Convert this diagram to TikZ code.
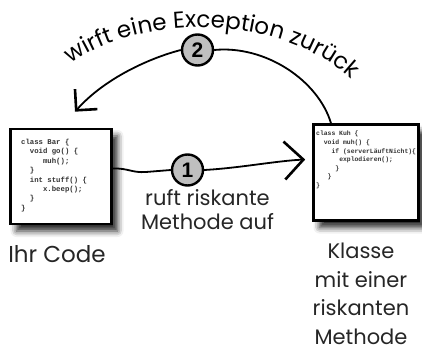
\documentclass[tikz,border=0pt]{standalone}
\usepackage{fontspec}
\setmainfont{Poppins}
\newfontfamily\codefont{Liberation Mono}
\newfontfamily\digitfont{Liberation Sans}
\usepackage{tikz}
\usetikzlibrary{arrows.meta, positioning, decorations.text, shadows.blur}

\begin{document}
\begin{tikzpicture}[x=1pt, y=-1pt,
  codebox/.style={rectangle, draw, line width=2.6pt, fill=white,
                  blur shadow={shadow xshift=6pt, shadow yshift=-7pt,
                               shadow blur radius=6pt, shadow opacity=85}},
  codetext/.style={anchor=north west, align=left, inner sep=0pt,
                   text=black!80, font=\codefont\bfseries},
  stepmark/.style={circle, draw, line width=2.4pt, fill=gray!50,
                   minimum size=31pt, inner sep=0pt,
                   font=\digitfont\bfseries\fontsize{21}{21}\selectfont},
  caption/.style={align=center, inner sep=0pt, text=black!85},
  link/.style={line width=1.8pt},
  barb/.style={-{Straight Barb[length=#1, width=2*#1, line width=2.6pt]}}]
  \useasboundingbox (0,0) rectangle (422,352);

  % the two classes
  \node[codebox, minimum width=101pt, minimum height=95pt] (bar) at (61,176.5) {};
  \node[codebox, minimum width=105pt, minimum height=96pt] (kuh) at (366,172.5) {};
  \node[codetext, font=\codefont\bfseries\fontsize{7.3}{9.4}\selectfont]
    (barcode) at (21,139)
    {class Bar \{\\
     \ \ void go() \{\\
     \ \ \ \ \ muh();\\
     \ \ \}\\
     \ \ int stuff() \{\\
     \ \ \ \ \ x.beep();\\
     \ \ \}\\
     \}};
  \node[codetext, font=\codefont\bfseries\fontsize{6.4}{8.6}\selectfont]
    (kuhcode) at (316,131)
    {class Kuh \{\\
     \ \ void muh() \{\\
     \ \ \ \ if (serverLäuftNicht)\{\\
     \ \ \ \ \ \ explodieren();\\
     \ \ \ \ \ \}\\
     \ \ \ \}\\
     \}};

  \node[caption, font=\fontsize{23}{28}\selectfont, below=20pt of bar, xshift=-4pt]
    (barlabel) {Ihr Code};
  \node[caption, font=\fontsize{21}{28.5}\selectfont, below=21pt of kuh, xshift=-5pt]
    (kuhlabel) {Klasse\\mit einer\\riskanten\\Methode};

  % step 1: the call
  \node[stepmark] (one) at (187.5,170) {1};
  \node[caption, font=\fontsize{21}{24}\selectfont, below=3pt of one, xshift=20pt]
    (onelabel) {ruft riskante\\Methode auf};
  \draw[link] ([yshift=8pt]bar.east) .. controls (128,168) and (132,173) .. (146,172)
    -- (one.west);
  \draw[link, barb=19pt] (one.east) .. controls (240,168) and (275,161)
    .. ([xshift=-7pt, yshift=13pt]kuh.west);

  % step 2: the exception comes back
  \node[stepmark] (two) at (197.5,50) {2};
  \draw[link] ([xshift=-35pt]kuh.north) .. controls (318,80) and (265,45) .. (two.east);
  \draw[link, barb=15pt] (two.west) .. controls (150,58) and (105,78)
    .. ([xshift=14pt, yshift=16pt]bar.north);
  \path[decorate, decoration={text along path, text align=center,
        text={|\fontsize{23}{23}\selectfont|wirft eine Exception zurück}}]
    (68,66) .. controls (138,12) and (282,12) .. (354,82);
\end{tikzpicture}
\end{document}
